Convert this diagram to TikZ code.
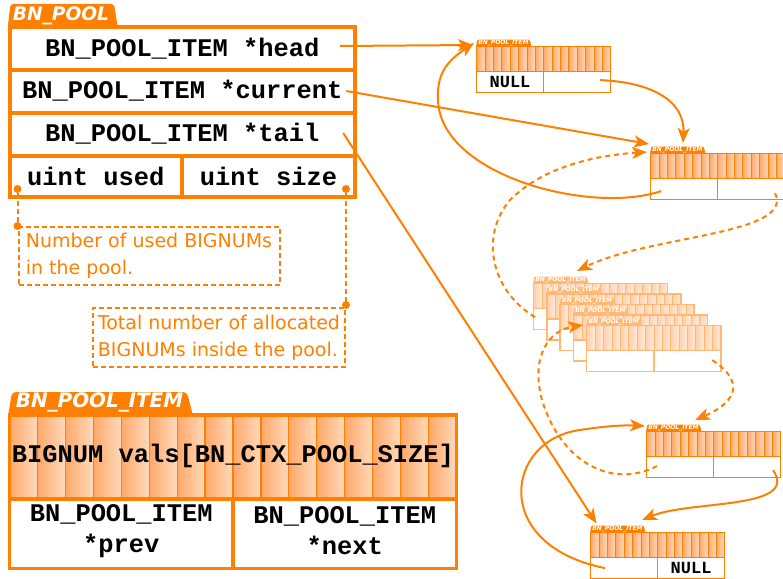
\documentclass[tikz,border=0pt]{standalone}
\usepackage{fontspec}
\setmainfont{DejaVu Sans}
\newfontfamily\monofam{Liberation Mono}
\usetikzlibrary{arrows.meta}

\definecolor{poolorange}{RGB}{255,128,0}
\definecolor{stripedark}{RGB}{255,168,105}
\definecolor{stripelight}{RGB}{255,218,188}

\newcommand\codefont{\monofam\bfseries\fontsize{25.4}{31}\selectfont}
\newcommand\nulltextfont{\monofam\bfseries\fontsize{17}{17}\selectfont}
\newcommand\notefont{\fontsize{19}{27}\selectfont}

% One BN_POOL_ITEM record: #1 name, #2/#3 top-left corner, #4 scale,
% #5 border width, #6 colour strength (percent of full orange)
\newcommand\poolitem[6]{%
  \colorlet{itemline}{poolorange!#6!white}%
  \colorlet{itemdark}{stripedark!#6!white}%
  \colorlet{itemlight}{stripelight!#6!white}%
  \pgfmathsetmacro\itemtab{19.9*#4}%
  \pgfmathsetmacro\itemround{4*#4}%
  \pgfmathsetmacro\itemthin{0.3*#5}%
  \begin{scope}[shift={(#2,#3)}, scale=#4]
    \fill[itemline, rounded corners=\itemround pt]
      (-1.75,3) -- (2.5,-23) -- (177.5,-23) -- (184,3) -- cycle;
    \foreach \i in {0,...,15}{
      \shade[left color=itemdark, right color=itemlight]
        ({\i*27.9375},0) rectangle ({(\i+1)*27.9375},84);
      \draw[itemline, line width=\itemthin pt] ({\i*27.9375},0) -- ({\i*27.9375},84);
    }
    \fill[white] (0,84) rectangle (447,153.5);
    \draw[itemline, line width=#5pt]
      (0,0) rectangle (447,153.5)
      (0,84) -- (447,84)
      (223.5,84) -- (223.5,153.5);
    \coordinate (#1-nw) at (0,0);
    \coordinate (#1-vals) at (223.5,42);
    \coordinate (#1-prev) at (111.75,118.75);
    \coordinate (#1-next) at (335.25,118.75);
    \node[text=white, inner sep=0pt,
          font={\bfseries\itshape\fontsize{\itemtab}{\itemtab}\selectfont}]
      (#1-label) at (90,-12.5) {BN\_POOL\_ITEM};
  \end{scope}%
}

\tikzset{
  field/.style={inner sep=0pt, font=\codefont},
  row/.style={field, minimum width=345.5pt, minimum height=42.5pt},
  link/.style={draw=poolorange, line width=2pt,
    -{Stealth[length=15pt, width=12pt, inset=4pt]}},
  dlink/.style={link, dash pattern=on 5pt off 4pt},
  dot/.style={circle, fill=poolorange, inner sep=0pt, minimum size=8pt},
  notelink/.style={draw=poolorange, line width=2pt, dash pattern=on 5pt off 3pt},
  note/.style={draw=poolorange, line width=2pt, dash pattern=on 5pt off 3pt,
    text=poolorange, font=\notefont, align=left, inner sep=0pt},
}

\begin{document}
\begin{tikzpicture}[x=1pt, y=-1pt]
\useasboundingbox (0,0) rectangle (783,578);
\fill[white] (0,0) rectangle (783,578);

% ---- BN_POOL structure ----
\fill[poolorange, rounded corners=3pt] (7.5,29) -- (10.5,4) -- (114,4) -- (118,29) -- cycle;
\node[text=white, inner sep=0pt, font={\bfseries\itshape\fontsize{18.6}{18.6}\selectfont}]
  (pooltab) at (61,15.5) {BN\_POOL};
\node[row] (head) at (182.25,48.25) {BN\_POOL\_ITEM *head};
\node[row] (cur)  at (182.25,91) {BN\_POOL\_ITEM *current};
\node[row] (tail) at (182.25,134) {BN\_POOL\_ITEM *tail};
\node[field] (used) at (95.75,176.25) {uint used};
\node[field] (size) at (268.5,176.25) {uint size};
\draw[poolorange, line width=4pt]
  (9.5,27) rectangle (355,197)
  (9.5,69.5) -- (355,69.5)
  (9.5,112.5) -- (355,112.5)
  (9.5,155.5) -- (355,155.5)
  (182,155.5) -- (182,197);

% ---- notes on used / size ----
\node[dot] (useddot) at (17.5,189) {};
\node[dot] (sizedot) at (346,189) {};
\node[note, anchor=north west, minimum width=261pt, minimum height=58pt]
  (note1) at (17.5,226) {Number of used BIGNUMs\\in the pool.};
\node[note, anchor=north east, minimum width=252pt, minimum height=59pt]
  (note2) at (346,307) {Total number of allocated\\BIGNUMs inside the pool.};
\node[dot] (note1dot) at (note1.north west) {};
\node[dot] (note2dot) at ([shift={(0,-2)}]note2.north east) {};
\draw[notelink] (useddot) -- (note1dot);
\draw[notelink] (sizedot) -- (note2dot);

% ---- BN_POOL_ITEM structure ----
\poolitem{item}{9.5}{415}{1}{3.8}{100}
\node[field] (vals) at ([shift={(0,-1)}]item-vals) {BIGNUM vals[BN\_CTX\_POOL\_SIZE]};
\node[field, align=center] (prevtxt) at ([shift={(0,-3)}]item-prev) {BN\_POOL\_ITEM\\*prev};
\node[field, align=center] (nexttxt) at ([shift={(0,-3)}]item-next) {BN\_POOL\_ITEM\\*next};

% ---- the linked list ----
\poolitem{n1}{476.5}{46.5}{0.3}{1.5}{100}
\node[font=\nulltextfont] (n1-null) at (n1-prev) {NULL};
\poolitem{n2}{650.5}{153.5}{0.3}{1.5}{100}
\foreach \k in {0,...,4}{
  \poolitem{s\k}{533.5+13.3*\k}{283.5+10.5*\k}{0.3}{1.5}{55}
}
\poolitem{n4}{646.5}{431.5}{0.3}{1.5}{100}
\poolitem{n5}{590.5}{532.5}{0.3}{1.5}{100}
\node[font=\nulltextfont] (n5-null) at (n5-next) {NULL};

% pool pointers
\draw[link] ([shift={(-15,-2.25)}]head.east) -- ([shift={(-3.5,-1.5)}]n1-nw);
\draw[link] ([shift={(-9,0)}]cur.east) -- ([shift={(-1.5,-9.5)}]n2-nw);
\draw[link] ([shift={(-12,-1)}]tail.east) -- ([shift={(6,-9)}]n5-nw);

% next / prev pointers
\draw[link] ([shift={(23,-2)}]n1-next) .. controls (650,82) and (685,100) .. ([shift={(32.5,-10.5)}]n2-nw);
\draw[link] ([shift={(-23,2)}]n2-prev) .. controls (590,215) and (440,175) .. (438,100)
  .. controls (436,70) and (452,58) .. ([shift={(-2.5,-3.5)}]n1-nw);
\draw[dlink] ([shift={(24,4)}]n2-next) .. controls (795,235) and (650,235) .. ([shift={(43.5,-12.5)}]s0-nw);
\draw[dlink] ([shift={(-32,-2)}]s0-prev) .. controls (490,290) and (480,235) .. (510,200)
  .. controls (545,165) and (600,155) .. ([shift={(-3.5,-1.5)}]n2-nw);
\draw[dlink] ([shift={(25,-1)}]s4-next) .. controls (750,385) and (730,405) .. ([shift={(48.5,-11.5)}]n4-nw);
\draw[dlink] ([shift={(-23,-1)}]n4-prev) .. controls (610,490) and (560,460) .. (542,400)
  .. controls (530,355) and (550,330) .. ([shift={(-3.5,-0.5)}]s4-nw);
\draw[link] ([shift={(26,3)}]n4-next) .. controls (800,510) and (690,500) .. ([shift={(51.5,-12.5)}]n5-nw);
\draw[link] ([shift={(-19,0)}]n5-prev) .. controls (490,545) and (505,440) .. (580,430)
  .. controls (605,426) and (625,425) .. ([shift={(-1.5,-5.5)}]n4-nw);
\end{tikzpicture}
\end{document}
